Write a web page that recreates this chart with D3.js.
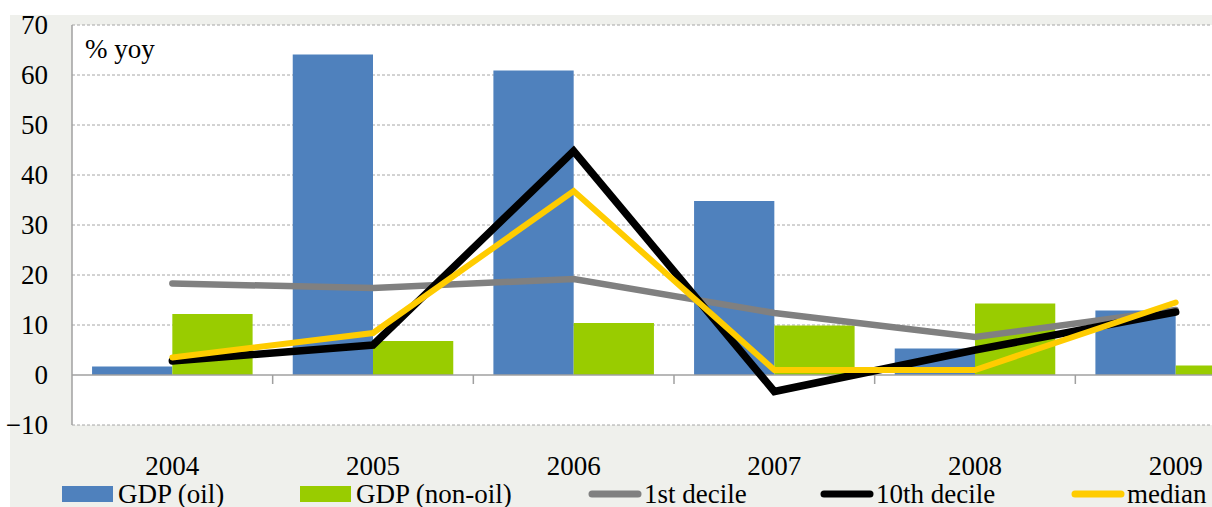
<!DOCTYPE html>
<html>
<head>
<meta charset="utf-8">
<script src="https://cdn.jsdelivr.net/npm/d3@7"></script>
</head>
<body style="margin:0;padding:0;background:#ffffff;overflow:hidden">
<svg id="chart" width="1212" height="507" style="display:block"></svg>
<script>
// Annual growth, % year on year
const years = ["2004", "2005", "2006", "2007", "2008", "2009"];
const gdpOil = [1.7, 64.1, 60.9, 34.8, 5.3, 12.9];
const gdpNonOil = [12.2, 6.8, 10.4, 9.9, 14.3, 1.9];
const decile1 = [18.3, 17.4, 19.2, 12.4, 7.6, 13.0];
const decile10 = [2.8, 6.0, 44.8, -3.3, 5.0, 12.6];
const median = [3.5, 8.4, 36.8, 1.0, 1.0, 14.5];
const yTicks = [-10, 0, 10, 20, 30, 40, 50, 60, 70];

const FONT = "'Liberation Serif'";
const FS = "27px";
const svg = d3.select("#chart");

// panel background
svg.append("rect").attr("x", 10).attr("y", 15).attr("width", 1202).attr("height", 492).attr("fill", "#eff0ec");

const plotLeft = 72, plotTop = 25, plotBottom = 425, plotRight = 1276;
const x = d3.scaleBand().domain(years).range([plotLeft, plotRight]).paddingInner(0.2).paddingOuter(0.1);
const xOuter = d3.scaleBand().domain(years).range([plotLeft, plotRight]);
const y = d3.scaleLinear().domain([-10, 70]).range([plotBottom, plotTop]);

// plot area
svg.append("rect").attr("x", plotLeft).attr("y", plotTop).attr("width", plotRight - plotLeft).attr("height", plotBottom - plotTop).attr("fill", "#ffffff");

// gridlines
svg.append("g").selectAll("line").data(yTicks.filter(d => d !== 0)).join("line")
  .attr("x1", plotLeft).attr("x2", plotRight)
  .attr("y1", d => y(d)).attr("y2", d => y(d))
  .attr("stroke", "#a6a6a6").attr("stroke-width", 1).attr("stroke-dasharray", "3,2");

// y axis labels
const yAxis = d3.axisLeft(y).tickValues(yTicks).tickSize(0).tickPadding(24).tickFormat(d3.format("d"));
const gy = svg.append("g").attr("transform", `translate(${plotLeft},0)`).call(yAxis);
gy.select(".domain").remove();
gy.attr("font-family", null).attr("font-size", null);
gy.selectAll("text").style("font-family", FONT).style("font-size", FS).attr("fill", "#000");

// bars
const sub = d3.scaleBand().domain(["oil", "nonoil"]).range([0, x.bandwidth()]);
const barData = years.map((yr, i) => ({ yr, oil: gdpOil[i], nonoil: gdpNonOil[i] }));
const colors = { oil: "#4f81bd", nonoil: "#99cc00" };
["oil", "nonoil"].forEach(k => {
  svg.append("g").selectAll("rect").data(barData).join("rect")
    .attr("x", d => x(d.yr) + sub(k))
    .attr("width", sub.bandwidth())
    .attr("y", d => y(Math.max(0, d[k])))
    .attr("height", d => Math.abs(y(d[k]) - y(0)))
    .attr("fill", colors[k]);
});

// left axis line and zero line with category ticks
svg.append("line").attr("x1", plotLeft).attr("x2", plotLeft).attr("y1", plotTop).attr("y2", plotBottom).attr("stroke", "#a0a0a0").attr("stroke-width", 1.5);
const gx = svg.append("g").attr("transform", `translate(0,${y(0)})`);
gx.append("line").attr("x1", plotLeft).attr("x2", plotRight).attr("y1", 0).attr("y2", 0).attr("stroke", "#a0a0a0").attr("stroke-width", 1.5);
gx.selectAll("line.tick").data(years.slice(1)).join("line").attr("class", "tick")
  .attr("x1", d => xOuter(d)).attr("x2", d => xOuter(d)).attr("y1", 0).attr("y2", 9)
  .attr("stroke", "#a0a0a0").attr("stroke-width", 1.5);

// lines
const cx = d => xOuter(d) + xOuter.bandwidth() / 2;
const line = d3.line().x(d => cx(d[0])).y(d => y(d[1]));
const series = [
  { name: "1st decile", values: decile1, color: "#808080", width: 6.5 },
  { name: "10th decile", values: decile10, color: "#000000", width: 7.5 },
  { name: "median", values: median, color: "#ffcc00", width: 6 }
];
series.forEach(s => {
  svg.append("path").datum(years.map((yr, i) => [yr, s.values[i]]))
    .attr("d", line).attr("fill", "none").attr("stroke", s.color)
    .attr("stroke-width", s.width).attr("stroke-linejoin", "miter").attr("stroke-linecap", "round");
});

// unit label
svg.append("text").attr("x", 85).attr("y", 58).style("font-family", FONT).style("font-size", FS).text("% yoy");

// category labels
svg.append("g").selectAll("text").data(years).join("text")
  .attr("x", d => cx(d)).attr("y", 475).attr("text-anchor", "middle")
  .style("font-family", FONT).style("font-size", FS)
  .text(d => d);

// legend
const legend = [
  { label: "GDP (oil)", color: colors.oil, kind: "rect", x: 62 },
  { label: "GDP (non-oil)", color: colors.nonoil, kind: "rect", x: 300 },
  { label: "1st decile", color: "#808080", kind: "line", x: 588 },
  { label: "10th decile", color: "#000000", kind: "line", x: 820 },
  { label: "median", color: "#ffcc00", kind: "line", x: 1071 }
];
const lg = svg.append("g");
legend.forEach(l => {
  if (l.kind === "rect") {
    lg.append("rect").attr("x", l.x).attr("y", 486).attr("width", 51).attr("height", 16).attr("fill", l.color);
  } else {
    lg.append("line").attr("x1", l.x + 4).attr("x2", l.x + 50).attr("y1", 494).attr("y2", 494)
      .attr("stroke", l.color).attr("stroke-width", 7).attr("stroke-linecap", "round");
  }
  lg.append("text").attr("x", l.x + 56).attr("y", 503)
    .style("font-family", FONT).style("font-size", FS).text(l.label);
});
</script>
</body>
</html>
